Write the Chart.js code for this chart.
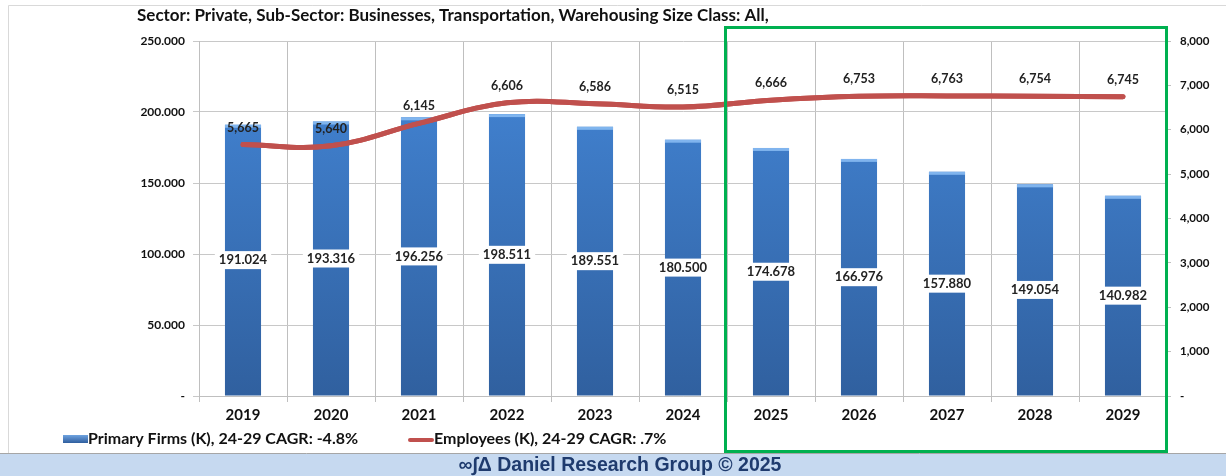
<!DOCTYPE html>
<html>
<head>
<meta charset="utf-8">
<title>Primary Firms and Employees</title>
<script src="https://cdn.jsdelivr.net/npm/chart.js@4.4.1/dist/chart.umd.min.js"></script>
<style>
  html, body { margin: 0; padding: 0; background: #fff; }
  #wrap { position: relative; width: 1226px; height: 476px; }
</style>
</head>
<body>
<div id="wrap"><canvas id="myChart" width="1226" height="476"></canvas></div>
<script>
// chart data
const years = ["2019", "2020", "2021", "2022", "2023", "2024", "2025", "2026", "2027", "2028", "2029"];
const firms = [191024, 193316, 196256, 198511, 189551, 180500, 174678, 166976, 157880, 149054, 140982];
const employees = [5665, 5640, 6145, 6606, 6586, 6515, 6666, 6753, 6763, 6754, 6745];
const firmsLabel = "Primary Firms (K), 24-29 CAGR: -4.8%";
const employeesLabel = "Employees (K), 24-29 CAGR: .7%";
const titleText = "Sector: Private, Sub-Sector: Businesses, Transportation, Warehousing Size Class: All,";
const footerText = "\u221E\u222B\u0394 Daniel Research Group \u00A9 2025";

const FONT = "Lato, 'Open Sans', sans-serif";
const dotFmt = v => v === 0 ? "-" : Math.round(v).toLocaleString("de-DE");
const commaFmt = v => v === 0 ? "-" : Math.round(v).toLocaleString("en-US");

Chart.defaults.font.family = FONT;
Chart.defaults.color = "#222";

// frame, title, footer and forecast box
const decorations = {
  id: "decorations",
  beforeDraw(chart) {
    const ctx = chart.ctx;
    ctx.save();
    ctx.fillStyle = "#fff";
    ctx.fillRect(0, 0, chart.width, chart.height);
    ctx.strokeStyle = "#D9D9D9";
    ctx.lineWidth = 1;
    ctx.beginPath();
    ctx.moveTo(8.5, 453);
    ctx.lineTo(8.5, 5.5);
    ctx.lineTo(chart.width, 5.5);
    ctx.stroke();
    ctx.restore();
  },
  afterDraw(chart) {
    const ctx = chart.ctx;
    ctx.save();
    // title
    ctx.fillStyle = "#111";
    ctx.font = "bold 17px " + FONT;
    ctx.textAlign = "left";
    ctx.textBaseline = "middle";
    ctx.fillText(titleText, 137, 16);

    // forecast box
    ctx.strokeStyle = "#00B050";
    ctx.lineWidth = 3;
    ctx.strokeRect(725.5, 27.5, 441, 424);

    // legend
    const ly = 439;
    const g = ctx.createLinearGradient(0, ly - 4, 0, ly + 4);
    g.addColorStop(0, "#6FA3E0");
    g.addColorStop(1, "#2F5E9E");
    ctx.fillStyle = g;
    ctx.fillRect(63, ly - 4, 25, 8);
    ctx.strokeStyle = "#C0504D";
    ctx.lineWidth = 4;
    ctx.lineCap = "round";
    ctx.beginPath();
    ctx.moveTo(410, ly + 1);
    ctx.lineTo(432, ly + 1);
    ctx.stroke();
    ctx.fillStyle = "#111";
    ctx.font = "bold 16px " + FONT;
    ctx.fillText(firmsLabel, 88, ly);
    ctx.fillText(employeesLabel, 434, ly);

    // footer band
    ctx.fillStyle = "#C6D9F0";
    ctx.fillRect(0, 454, chart.width, 22);
    ctx.strokeStyle = "#A6A6A6";
    ctx.lineWidth = 1;
    ctx.beginPath();
    ctx.moveTo(0, 453.5);
    ctx.lineTo(chart.width, 453.5);
    ctx.stroke();
    ctx.fillStyle = "#1F3B6E";
    ctx.font = "bold 19.5px 'Liberation Sans', Arial, sans-serif";
    ctx.textAlign = "center";
    ctx.fillText(footerText, 620, 466);
    ctx.restore();
  }
};

// value labels: boxed on the bars, plain above the line
const valueLabels = {
  id: "valueLabels",
  afterDatasetsDraw(chart) {
    const ctx = chart.ctx;
    ctx.save();
    const bars = chart.getDatasetMeta(0).data;
    bars.forEach((bar) => {
      // lighter cap on top of each bar
      const w = bar.width;
      ctx.fillStyle = "rgba(140,190,245,0.85)";
      ctx.fillRect(bar.x - w / 2, bar.y, w, 3);
    });
    // keep the line above the bar caps
    chart.getDatasetMeta(1).controller.draw();

    ctx.textAlign = "center";
    ctx.textBaseline = "middle";
    ctx.font = "bold 13px " + FONT;
    bars.forEach((bar, i) => {
      const txt = dotFmt(firms[i]);
      const cy = (bar.y + bar.base) / 2;
      const tw = ctx.measureText(txt).width + 8;
      ctx.fillStyle = "#fff";
      ctx.fillRect(bar.x - tw / 2, cy - 9, tw, 18);
      ctx.fillStyle = "#222";
      ctx.fillText(txt, bar.x, cy);
    });
    ctx.font = "bold 12.5px " + FONT;
    chart.getDatasetMeta(1).data.forEach((pt, i) => {
      ctx.fillStyle = "#222";
      ctx.fillText(commaFmt(employees[i]), pt.x, pt.y - 17);
    });
    ctx.restore();
  }
};

const chart = new Chart("myChart", {
  data: {
    labels: years,
    datasets: [
      {
        type: "bar",
        label: firmsLabel,
        data: firms,
        yAxisID: "y",
        order: 2,
        barPercentage: 0.41,
        categoryPercentage: 1,
        backgroundColor: (c) => {
          const area = c.chart.chartArea;
          if (!area) return "#3A75C4";
          const g = c.chart.ctx.createLinearGradient(0, area.top, 0, area.bottom);
          g.addColorStop(0, "#4487D8");
          g.addColorStop(1, "#30609F");
          return g;
        }
      },
      {
        type: "line",
        label: employeesLabel,
        data: employees,
        yAxisID: "y1",
        order: 1,
        borderColor: "#C0504D",
        borderWidth: 5,
        borderCapStyle: "round",
        tension: 0.4,
        pointRadius: 0,
        fill: false
      }
    ]
  },
  options: {
    responsive: false,
    animation: false,
    layout: { padding: { top: 41, left: 0, right: 0, bottom: 0 } },
    plugins: {
      legend: { display: false },
      tooltip: { enabled: false }
    },
    scales: {
      x: {
        afterFit: (s) => { s.height = 80; },
        grid: { color: "#BFBFBF", tickLength: 6, offset: true },
        border: { color: "#BFBFBF" },
        ticks: { padding: 4, color: "#111", font: { size: 15, weight: "bold" } }
      },
      y: {
        position: "left",
        min: 0,
        max: 250000,
        afterFit: (s) => { s.width = 199; },
        grid: { color: "#C8C8C8", tickLength: 6 },
        border: { color: "#BFBFBF" },
        ticks: { stepSize: 50000, padding: 8, color: "#111", font: { size: 12, weight: "bold" }, callback: dotFmt }
      },
      y1: {
        position: "right",
        min: 0,
        max: 8000,
        afterFit: (s) => { s.width = 59; },
        grid: { drawOnChartArea: false, color: "#BFBFBF", tickLength: 4 },
        border: { display: false },
        ticks: { stepSize: 1000, padding: 9, color: "#111", font: { size: 11.5, weight: "bold" }, callback: commaFmt }
      }
    }
  },
  plugins: [decorations, valueLabels]
});
</script>
</body>
</html>
